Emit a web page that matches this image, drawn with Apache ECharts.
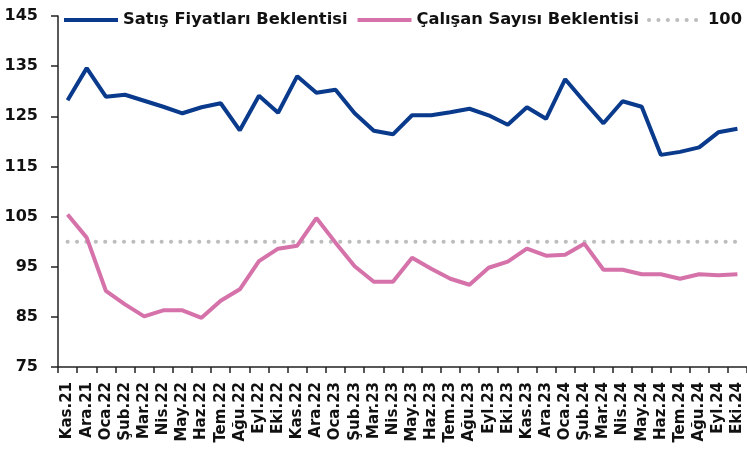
<!DOCTYPE html>
<html>
<head>
<meta charset="utf-8">
<script src="https://cdn.jsdelivr.net/npm/echarts@6.0.0/dist/echarts.min.js"></script>
<style>
html, body { margin: 0; padding: 0; background: #fff; }
#main { width: 747px; height: 450px; }
</style>
</head>
<body>
<div id="main"></div>
<script>
// aylar
var months = ["Kas.21", "Ara.21", "Oca.22", "Şub.22", "Mar.22", "Nis.22", "May.22", "Haz.22", "Tem.22", "Ağu.22", "Eyl.22", "Eki.22",
    "Kas.22", "Ara.22", "Oca.23", "Şub.23", "Mar.23", "Nis.23", "May.23", "Haz.23", "Tem.23", "Ağu.23", "Eyl.23", "Eki.23",
    "Kas.23", "Ara.23", "Oca.24", "Şub.24", "Mar.24", "Nis.24", "May.24", "Haz.24", "Tem.24", "Ağu.24", "Eyl.24", "Eki.24"];

var satis = [128.2, 134.6, 128.9, 129.3, 128.1, 126.9, 125.6, 126.8, 127.6, 122.2, 129.1, 125.7,
    133.0, 129.7, 130.3, 125.6, 122.1, 121.4, 125.2, 125.2, 125.8, 126.5, 125.2, 123.3,
    126.8, 124.5, 132.4, 127.9, 123.6, 128.0, 126.9, 117.3, 117.9, 118.8, 121.8, 122.5];

var calisan = [105.4, 100.8, 90.2, 87.5, 85.1, 86.3, 86.3, 84.8, 88.2, 90.5, 96.1, 98.6,
    99.2, 104.7, 99.8, 95.1, 92.0, 92.0, 96.8, 94.6, 92.6, 91.4, 94.8, 96.0,
    98.6, 97.2, 97.4, 99.6, 94.4, 94.4, 93.5, 93.5, 92.6, 93.5, 93.3, 93.5];

var esik = new Array(months.length).fill(100);

var fontName = 'DejaVu Sans';
var chart = echarts.init(document.getElementById('main'));

var option = {
    animation: false,
    textStyle: { fontFamily: fontName },
    grid: {
        left: 58,
        right: 0,
        top: 16,
        bottom: 83
    },
    legend: {
        left: 62,
        top: 12,
        width: 700,
        padding: 0,
        itemWidth: 54,
        itemHeight: 20,
        itemGap: 8,
        itemStyle: { opacity: 0 },
        lineStyle: { width: 4 },
        textStyle: {
            fontSize: 16.3,
            fontWeight: 'bold',
            color: '#111',
            fontFamily: fontName
        },
        data: ['Satış Fiyatları Beklentisi', 'Çalışan Sayısı Beklentisi', '100']
    },
    xAxis: {
        type: 'category',
        data: months,
        boundaryGap: true,
        axisLine: { lineStyle: { color: '#222', width: 1.5 } },
        axisTick: { show: true, length: 6, interval: 0, lineStyle: { color: '#222', width: 1.5 } },
        axisLabel: {
            interval: 0,
            rotate: 90,
            margin: 15,
            fontSize: 15,
            fontWeight: 'bold',
            color: '#111',
            fontFamily: fontName
        },
        splitLine: { show: false }
    },
    yAxis: {
        type: 'value',
        min: 75,
        max: 145,
        interval: 10,
        axisLine: { show: true, lineStyle: { color: '#222', width: 1.5 } },
        axisTick: { show: true, length: 7, lineStyle: { color: '#222', width: 1.5 } },
        axisLabel: {
            margin: 20,
            fontSize: 16,
            fontWeight: 'bold',
            color: '#111',
            fontFamily: fontName
        },
        splitLine: { show: false }
    },
    series: [
        {
            name: 'Satış Fiyatları Beklentisi',
            type: 'line',
            data: satis,
            symbol: 'none',
            lineStyle: { color: '#0A3A8C', width: 4 },
            itemStyle: { color: '#0A3A8C' }
        },
        {
            name: 'Çalışan Sayısı Beklentisi',
            type: 'line',
            data: calisan,
            symbol: 'none',
            lineStyle: { color: '#D672AA', width: 4 },
            itemStyle: { color: '#D672AA' }
        },
        {
            name: '100',
            type: 'line',
            data: esik,
            symbol: 'none',
            z: 1,
            lineStyle: { color: '#BDBDBD', width: 4, type: [0.1, 9.3], cap: 'round' },
            itemStyle: { color: '#BDBDBD' }
        }
    ]
};

chart.setOption(option);
</script>
</body>
</html>
